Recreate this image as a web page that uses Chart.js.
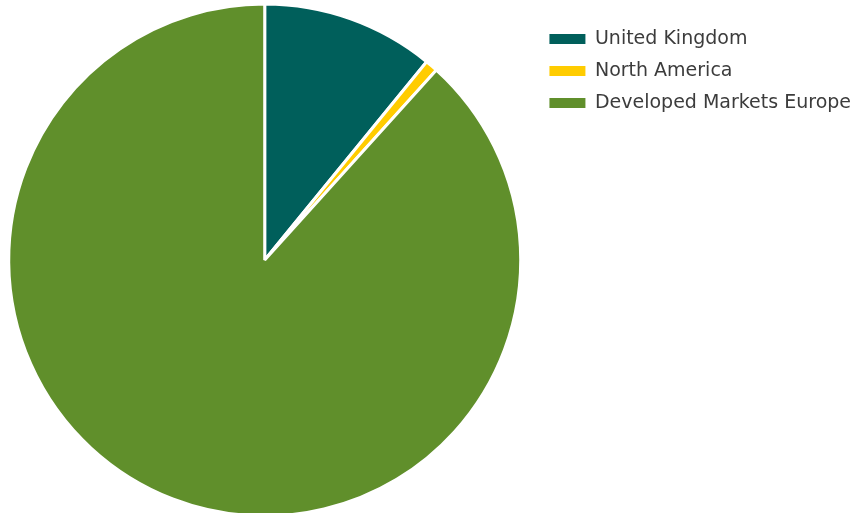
<!DOCTYPE html>
<html>
<head>
<meta charset="utf-8">
<script src="https://cdn.jsdelivr.net/npm/chart.js@4"></script>
<style>
  html, body { margin: 0; padding: 0; background: #fff; overflow: hidden; }
  #wrap { width: 868px; height: 520px; margin-left: -7px; }
</style>
</head>
<body>
<div id="wrap"><canvas id="pieChart" width="868" height="520"></canvas></div>
<script>
// Regional allocation (%)
const regions = ['United Kingdom', 'North America', 'Developed Markets Europe'];
const weights = [10.9, 0.8, 88.3];
const colours = ['#005f5b', '#ffcc00', '#608f2b'];

const ctx = document.getElementById('pieChart').getContext('2d');

new Chart(ctx, {
    type: 'pie',
    data: {
        labels: regions,
        datasets: [{
            data: weights,
            backgroundColor: colours,
            borderColor: '#ffffff',
            borderWidth: 3
        }]
    },
    options: {
        responsive: false,
        animation: false,
        layout: {
            padding: { top: 2.5, bottom: 2.5, left: 0, right: 0 }
        },
        plugins: {
            tooltip: { enabled: false },
            legend: {
                position: 'right',
                align: 'start',
                title: { display: true, text: ' ', padding: 1, font: { size: 10 } },
                labels: {
                    boxWidth: 36,
                    boxHeight: 10,
                    padding: 13,
                    color: '#3c3c3c',
                    font: { family: 'DejaVu Sans', size: 19 },
                    // solid legend swatches, no white outline
                    generateLabels: (chart) =>
                        Chart.overrides.pie.plugins.legend.labels.generateLabels(chart)
                            .map(item => ({ ...item, lineWidth: 0 }))
                }
            }
        }
    }
});
</script>
</body>
</html>
